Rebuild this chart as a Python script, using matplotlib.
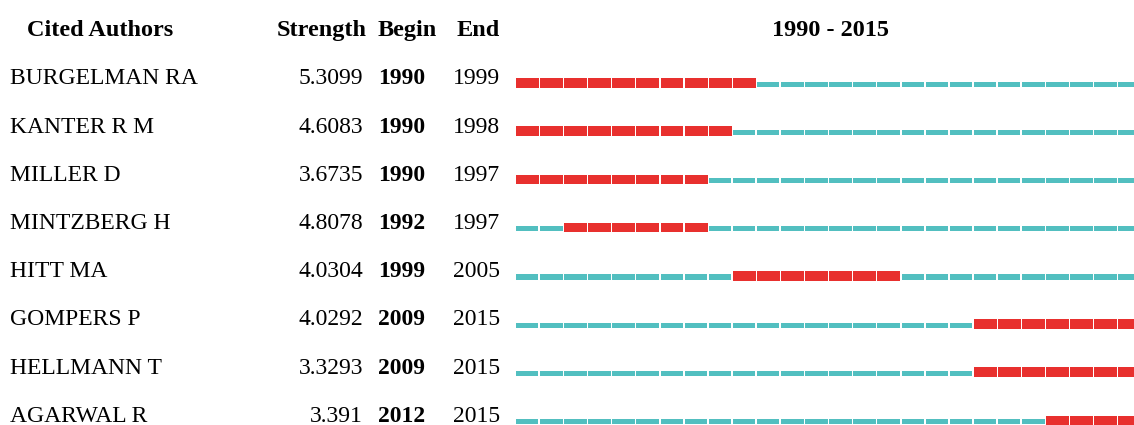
import matplotlib
matplotlib.use("Agg")
import matplotlib.pyplot as plt
import matplotlib.transforms as mtransforms

# burst data
authors = ["BURGELMAN RA", "KANTER R M", "MILLER D", "MINTZBERG H",
           "HITT MA", "GOMPERS P", "HELLMANN T", "AGARWAL R"]
strength = ["5.3099", "4.6083", "3.6735", "4.8078",
            "4.0304", "4.0292", "3.3293", "3.391"]
begin = [1990, 1990, 1990, 1992, 1999, 2009, 2009, 2012]
end = [1999, 1998, 1997, 1997, 2005, 2015, 2015, 2015]
year_start, year_end = 1990, 2015

RED = "#E8302E"
TEAL = "#52BFC0"

plt.rcParams["font.family"] = ["Liberation Serif", "DejaVu Serif"]

W, H = 1134, 425
fig = plt.figure(figsize=(W / 100, H / 100), dpi=100)
fig.patch.set_facecolor("white")

# bar area: one year per ~24 px, starts at x=516 px (runs off the right edge)
px_year = 24.1
x0 = 516
n_years = year_end - year_start + 1
ax = fig.add_axes([x0 / W, 0, n_years * px_year / W, 1])
ax.set_xlim(year_start, year_end + 1)
row_px, row0_px = 48.2, 83
ax.set_ylim((H - row0_px) / row_px, -row0_px / row_px)
ax.axis("off")

years = list(range(year_start, year_end + 1))
for i in range(len(authors)):
    teal_years = [y for y in years if not (begin[i] <= y <= end[i])]
    red_years = [y for y in years if begin[i] <= y <= end[i]]
    ax.barh([i + 0.025] * len(teal_years), [0.93] * len(teal_years), left=teal_years,
            height=0.11, color=TEAL, linewidth=0, clip_on=False)
    ax.barh([i] * len(red_years), [0.95] * len(red_years), left=red_years,
            height=0.2, color=RED, linewidth=0, clip_on=False)

# text columns (x in figure fraction, y in row units)
tr = mtransforms.blended_transform_factory(fig.transFigure, ax.transData)
fs = 17
fs_b = 17
fs_h = 17.5
hdr_y = (36.5 - row0_px) / row_px
txt_dy = 1.5 / row_px

ax.text(27 / W, hdr_y, "Cited Authors", transform=tr, fontsize=fs_h, fontweight="bold",
        ha="left", va="baseline")
ax.text(367 / W, hdr_y, "Strength", transform=tr, fontsize=fs_h, fontweight="bold",
        ha="right", va="baseline")
ax.text(378 / W, hdr_y, "Begin", transform=tr, fontsize=fs_h, fontweight="bold",
        ha="left", va="baseline")
ax.text(457 / W, hdr_y, "End", transform=tr, fontsize=fs_h, fontweight="bold",
        ha="left", va="baseline")
ax.text(830 / W, hdr_y, f"{year_start} - {year_end}", transform=tr, fontsize=fs_h,
        fontweight="bold", ha="center", va="baseline")

for i in range(len(authors)):
    y = i + txt_dy
    ax.text(10 / W, y, authors[i], transform=tr, fontsize=fs, ha="left", va="baseline")
    ax.text(363 / W, y, strength[i], transform=tr, fontsize=fs, ha="right", va="baseline")
    ax.text(378 / W, y, str(begin[i]), transform=tr, fontsize=fs_b, fontweight="bold",
            ha="left", va="baseline")
    ax.text(500 / W, y, str(end[i]), transform=tr, fontsize=fs, ha="right", va="baseline")

fig.savefig("out.png", dpi=100, facecolor="white")
